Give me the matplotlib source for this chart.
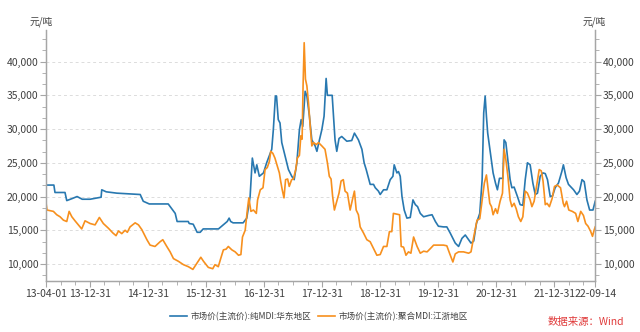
import matplotlib
matplotlib.use("Agg")
import matplotlib.pyplot as plt
import matplotlib.dates as mdates
from matplotlib.ticker import MultipleLocator, FuncFormatter
import pandas as pd

plt.rcParams['font.family'] = ['Noto Sans CJK SC', 'DejaVu Sans']

# 纯MDI 华东地区
pure_dates = [
    '2013-04-01', '2013-05-20', '2013-05-27', '2013-07-29', '2013-08-09', '2013-09-12',
    '2013-10-13', '2013-11-14', '2014-01-03', '2014-02-16', '2014-03-13', '2014-03-17',
    '2014-04-14', '2014-06-20', '2014-11-14', '2014-12-03', '2015-01-10', '2015-05-09',
    '2015-06-22', '2015-07-04', '2015-09-12', '2015-09-18', '2015-10-13', '2015-11-07',
    '2015-11-26', '2015-12-15', '2016-03-20', '2016-05-14', '2016-05-26', '2016-06-05',
    '2016-06-20', '2016-08-22', '2016-09-14', '2016-10-05', '2016-10-19', '2016-11-05',
    '2016-11-16', '2016-12-02', '2016-12-28', '2017-01-17', '2017-02-18', '2017-02-28',
    '2017-03-13', '2017-03-20', '2017-03-31', '2017-04-11', '2017-04-22', '2017-05-13',
    '2017-06-03', '2017-06-24', '2017-07-09', '2017-07-26', '2017-08-11', '2017-08-22',
    '2017-09-01', '2017-09-16', '2017-09-27', '2017-10-13', '2017-10-28', '2017-11-18',
    '2017-11-29', '2017-12-15', '2017-12-30', '2018-01-13', '2018-01-26', '2018-02-03',
    '2018-03-05', '2018-03-23', '2018-04-03', '2018-04-17', '2018-05-04', '2018-06-05',
    '2018-07-06', '2018-07-23', '2018-08-17', '2018-09-08', '2018-09-22', '2018-10-05',
    '2018-10-30', '2018-11-20', '2018-12-01', '2018-12-21', '2019-01-01', '2019-01-22',
    '2019-02-12', '2019-03-05', '2019-03-22', '2019-03-30', '2019-04-16', '2019-04-26',
    '2019-05-07', '2019-05-18', '2019-06-01', '2019-06-18', '2019-07-09', '2019-07-26',
    '2019-08-10', '2019-08-24', '2019-09-10', '2019-10-01', '2019-11-02', '2019-11-23',
    '2019-12-14', '2020-01-02', '2020-02-03', '2020-02-24', '2020-03-16', '2020-04-17',
    '2020-05-08', '2020-05-29', '2020-06-19', '2020-07-10', '2020-07-25', '2020-08-11',
    '2020-08-28', '2020-09-18', '2020-10-03', '2020-10-13', '2020-10-22', '2020-10-30',
    '2020-11-07', '2020-11-24', '2020-12-11', '2020-12-26', '2021-01-07', '2021-01-20',
    '2021-02-10', '2021-02-18', '2021-03-01', '2021-03-11', '2021-03-28', '2021-04-08',
    '2021-04-22', '2021-05-13', '2021-05-30', '2021-06-16', '2021-07-01', '2021-07-15',
    '2021-08-01', '2021-08-18', '2021-09-02', '2021-09-16', '2021-10-03', '2021-10-20',
    '2021-11-04', '2021-11-18', '2021-12-05', '2021-12-20', '2022-01-05', '2022-01-26',
    '2022-02-16', '2022-02-26', '2022-03-15', '2022-03-30', '2022-05-01', '2022-05-22',
    '2022-06-07', '2022-06-23', '2022-07-07', '2022-07-24', '2022-08-10', '2022-08-31',
    '2022-09-14',
]
pure_price = [
    21700, 21700, 20600, 20600, 19400, 19700,
    20000, 19600, 19600, 19800, 19900, 21000,
    20700, 20500, 20300, 19300, 18900, 18900,
    17500, 16300, 16300, 16000, 15900, 14700,
    14700, 15200, 15200, 16300, 16800, 16300,
    16100, 16100, 16800, 20000, 25700, 23500,
    24700, 23000, 23500, 25000, 27000, 29900,
    34900, 34900, 31400, 30900, 28000, 26000,
    24000, 23000, 22500, 25000, 29900, 31400,
    30400, 35600, 34900, 31900, 28400, 27500,
    26700, 28400, 29900, 31900, 37500, 35000,
    35000, 28400, 26700, 28600, 28900, 28200,
    28300, 29400, 28400, 27000, 25000, 24000,
    21800, 21800, 21300, 20800, 20300, 21000,
    21000, 22500, 23000, 24700, 23500, 23700,
    23000, 20000, 18000, 16800, 16900, 19500,
    18800, 18500, 17500, 17000, 17200, 17300,
    16300, 15600, 15500, 15500, 14600, 13100,
    12600, 13800, 14300, 13600, 13100, 13400,
    16000, 17500, 22500, 32400, 34900, 31900,
    29400, 26500, 23500, 22000, 21000, 22700,
    22700, 28400, 28000, 26000, 22500, 21300,
    21400, 20000, 18800, 18700, 22500, 25000,
    24700, 22000, 20300, 20500, 23000, 23500,
    23400, 22500, 20000, 20100, 21300, 22000,
    23700, 24700, 22800, 21800, 21000, 20300,
    20800, 22500, 22200, 19500, 18000, 18000,
    19300,
]

# 聚合MDI 江浙地区
poly_dates = [
    '2013-04-01', '2013-04-07', '2013-05-17', '2013-06-07', '2013-06-28', '2013-07-19',
    '2013-08-09', '2013-08-24', '2013-09-10', '2013-09-30', '2013-10-21', '2013-11-11',
    '2013-12-02', '2014-01-03', '2014-02-03', '2014-03-02', '2014-03-27', '2014-04-28',
    '2014-05-26', '2014-06-15', '2014-06-30', '2014-07-21', '2014-08-11', '2014-08-25',
    '2014-09-11', '2014-10-13', '2014-11-03', '2014-11-24', '2014-12-26', '2015-01-15',
    '2015-02-15', '2015-03-19', '2015-04-05', '2015-04-30', '2015-05-21', '2015-06-11',
    '2015-07-12', '2015-08-13', '2015-09-13', '2015-10-11', '2015-11-05', '2015-11-30',
    '2015-12-17', '2016-01-16', '2016-02-13', '2016-02-27', '2016-03-19', '2016-04-03',
    '2016-04-20', '2016-05-07', '2016-05-21', '2016-06-12', '2016-07-03', '2016-07-24',
    '2016-08-08', '2016-08-18', '2016-09-04', '2016-09-19', '2016-09-27', '2016-10-10',
    '2016-10-26', '2016-11-13', '2016-11-21', '2016-12-08', '2016-12-25', '2017-01-07',
    '2017-01-21', '2017-02-03', '2017-02-12', '2017-02-25', '2017-03-10', '2017-03-25',
    '2017-04-07', '2017-04-15', '2017-04-25', '2017-05-06', '2017-05-16', '2017-05-29',
    '2017-06-08', '2017-06-23', '2017-07-04', '2017-07-19', '2017-07-29', '2017-08-11',
    '2017-08-20', '2017-08-28', '2017-09-03', '2017-09-10', '2017-09-18', '2017-09-27',
    '2017-10-07', '2017-10-18', '2017-10-28', '2017-11-08', '2017-11-25', '2017-12-09',
    '2017-12-30', '2018-01-19', '2018-02-03', '2018-02-15', '2018-02-26', '2018-03-08',
    '2018-03-19', '2018-04-03', '2018-04-17', '2018-04-30', '2018-05-14', '2018-05-25',
    '2018-06-09', '2018-06-26', '2018-07-10', '2018-07-23', '2018-08-03', '2018-08-17',
    '2018-08-28', '2018-09-18', '2018-10-09', '2018-10-30', '2018-11-20', '2018-12-11',
    '2019-01-01', '2019-01-22', '2019-02-12', '2019-02-28', '2019-03-15', '2019-03-25',
    '2019-04-12', '2019-05-03', '2019-05-13', '2019-05-28', '2019-06-12', '2019-06-28',
    '2019-07-13', '2019-07-30', '2019-08-21', '2019-09-10', '2019-10-01', '2019-10-23',
    '2019-11-13', '2019-12-03', '2020-02-03', '2020-02-24', '2020-03-12', '2020-04-02',
    '2020-04-17', '2020-05-08', '2020-06-08', '2020-07-10', '2020-07-25', '2020-08-11',
    '2020-09-01', '2020-09-18', '2020-10-03', '2020-10-17', '2020-10-30', '2020-11-10',
    '2020-11-20', '2020-12-01', '2020-12-11', '2020-12-26', '2021-01-07', '2021-01-24',
    '2021-02-08', '2021-02-18', '2021-03-01', '2021-03-14', '2021-03-28', '2021-04-08',
    '2021-04-22', '2021-05-05', '2021-05-19', '2021-06-03', '2021-06-16', '2021-07-01',
    '2021-07-15', '2021-08-01', '2021-08-12', '2021-08-26', '2021-09-13', '2021-09-27',
    '2021-10-10', '2021-10-21', '2021-11-04', '2021-11-15', '2021-11-30', '2021-12-17',
    '2022-01-01', '2022-01-18', '2022-02-08', '2022-02-25', '2022-03-05', '2022-03-18',
    '2022-04-01', '2022-04-23', '2022-05-14', '2022-05-28', '2022-06-15', '2022-07-02',
    '2022-07-16', '2022-07-31', '2022-08-17', '2022-08-28', '2022-09-07', '2022-09-14',
]
poly_price = [
    19000, 18000, 17800, 17300, 17000, 16500,
    16300, 17800, 17000, 16400, 15800, 15200,
    16400, 16000, 15800, 16900, 16000, 15300,
    14600, 14200, 14900, 14500, 15000, 14700,
    15500, 16100, 15800, 15100, 13600, 12800,
    12600, 13300, 13600, 12600, 11800, 10800,
    10400, 9900, 9600, 9200, 10100, 11000,
    10400, 9500, 9300, 9900, 9600, 10800,
    12100, 12200, 12600, 12100, 11800, 11300,
    11400, 14000, 15000, 18300, 19800, 17800,
    18000, 17500, 19500, 21000, 21300, 24000,
    24300, 25200, 26700, 26400, 25700, 24500,
    23500, 22300, 21000, 19800, 22500, 22600,
    21500, 22500, 22600, 24000, 25700, 26100,
    29000, 28500, 36400, 42800, 37400, 36400,
    33900, 30400, 27500, 28000, 27700, 28000,
    27500, 27000, 25000, 23000, 22600, 20000,
    18000, 19300, 20500, 22300, 22500, 20800,
    20500, 18000, 19500, 20800, 18000, 17300,
    15500, 14600, 13600, 13300, 12300, 11300,
    11400, 12600, 12600, 14800, 14800, 17500,
    17400, 17300, 12600, 12500, 11300, 11800,
    11600, 14000, 12600, 11600, 11900, 11800,
    12300, 12800, 12800, 12700, 11600, 10300,
    11500, 11800, 11800, 11600, 11800, 14000,
    16500, 16700, 19500, 22000, 23200, 21000,
    19000, 18500, 17300, 18200, 17500, 19300,
    20500, 27000, 25500, 23000, 19500, 18500,
    19000, 18200, 17000, 16300, 17000, 20800,
    20500, 19500, 18500, 19300, 22000, 24000,
    23800, 22300, 18800, 19000, 18500, 19700,
    21500, 21700, 21300, 19000, 18500, 19300,
    18000, 17800, 17500, 16300, 17800, 17200,
    16000, 15600, 14800, 14100, 15000, 15500,
]

tick_dates = ['2013-04-01', '2013-12-31', '2014-12-31', '2015-12-31', '2016-12-31',
              '2017-12-31', '2018-12-31', '2019-12-31', '2020-12-31', '2021-12-31',
              '2022-09-14']
tick_labels = ['13-04-01', '13-12-31', '14-12-31', '15-12-31', '16-12-31', '17-12-31',
               '18-12-31', '19-12-31', '20-12-31', '21-12-31', '22-09-14']

blue = '#2878b0'
orange = '#f7901e'
axis_color = '#a6a6a6'
text_color = '#404040'

fig = plt.figure(figsize=(6.4, 3.32), dpi=100)
ax = fig.add_axes([0.072, 0.154, 0.858, 0.756])

ax.plot(pd.to_datetime(pure_dates), pure_price, color=blue, lw=1.2,
        label='市场价(主流价):纯MDI:华东地区')
ax.plot(pd.to_datetime(poly_dates), poly_price, color=orange, lw=1.2,
        label='市场价(主流价):聚合MDI:江浙地区')

ax.set_xlim(pd.Timestamp(tick_dates[0]), pd.Timestamp(tick_dates[-1]))
ax.set_ylim(7500, 44700)

ax.set_xticks(pd.to_datetime(tick_dates))
ax.set_xticklabels(tick_labels)
ax.xaxis.set_minor_locator(mdates.MonthLocator(bymonth=[1, 4, 7, 10]))

fmt = FuncFormatter(lambda v, p: f'{v:,.0f}')
ax2 = ax.twinx()
ax2.set_ylim(ax.get_ylim())
for a in (ax, ax2):
    a.yaxis.set_major_locator(MultipleLocator(5000))
    a.yaxis.set_minor_locator(MultipleLocator(5000 / 3))
    a.yaxis.set_major_formatter(fmt)
    a.tick_params(axis='both', which='major', length=4, width=0.8, color=axis_color,
                  labelsize=7.5, labelcolor=text_color, pad=1.5)
    a.tick_params(axis='both', which='minor', length=3, width=0.6, color=axis_color)
    a.spines['top'].set_visible(False)
    for s in ('left', 'right', 'bottom'):
        a.spines[s].set_color(axis_color)
        a.spines[s].set_linewidth(0.9)

ax.grid(axis='y', which='major', linestyle=(0, (3, 3)), color='#dcdcdc', lw=0.7)
ax.set_axisbelow(True)

fig.text(0.064, 0.935, '元/吨', fontsize=7, color=text_color, ha='center', va='center')
fig.text(0.928, 0.935, '元/吨', fontsize=7, color=text_color, ha='center', va='center')

ax.legend(loc='upper center', bbox_to_anchor=(0.497, -0.11), ncol=2, frameon=False,
          fontsize=6.2, labelcolor=text_color, handlelength=2.0, handletextpad=0.4,
          columnspacing=0.8, borderaxespad=0)

fig.text(0.975, 0.03, '数据来源：Wind', fontsize=7.5, color='#e03a3a', ha='right', va='center')

fig.savefig('out.png', dpi=100)
